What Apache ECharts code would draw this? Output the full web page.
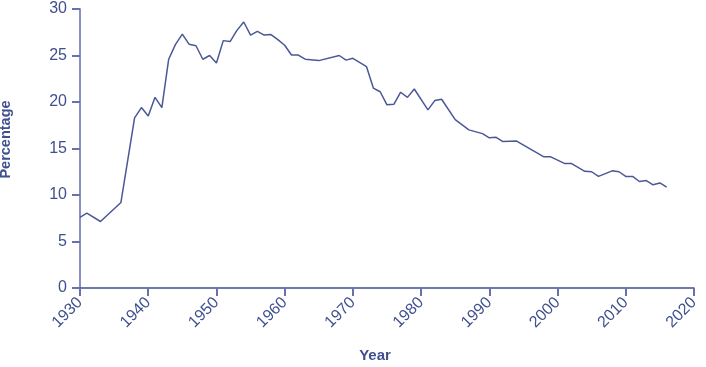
<!DOCTYPE html>
<html>
<head>
<meta charset="utf-8">
<script src="https://cdn.jsdelivr.net/npm/echarts@6/dist/echarts.min.js"></script>
<style>
  html, body { margin: 0; padding: 0; background: #fff; }
  #chart { width: 706px; height: 367px; }
</style>
</head>
<body>
<div id="chart"></div>
<script>
// years (some years missing in the source line)
var years = [1930, 1931, 1933, 1936, 1938, 1939, 1940, 1941, 1942, 1943, 1944, 1945, 1946, 1947, 1948, 1949,
    1950, 1951, 1952, 1953, 1954, 1955, 1956, 1957, 1958, 1959, 1960, 1961, 1962, 1963, 1965, 1968, 1969,
    1970, 1972, 1973, 1974, 1975, 1976, 1977, 1978, 1979, 1981, 1982, 1983, 1985, 1987, 1989, 1990, 1991,
    1992, 1994, 1998, 1999, 2001, 2002, 2004, 2005, 2006, 2008, 2009, 2010, 2011, 2012, 2013, 2014, 2015, 2016];
var percentage = [7.6, 8.05, 7.15, 9.2, 18.3, 19.4, 18.5, 20.5, 19.4, 24.6, 26.2, 27.3, 26.2, 26.05, 24.6, 25.0,
    24.2, 26.6, 26.5, 27.7, 28.6, 27.2, 27.6, 27.2, 27.25, 26.7, 26.1, 25.05, 25.05, 24.6, 24.45, 25.0, 24.5,
    24.7, 23.8, 21.5, 21.1, 19.7, 19.75, 21.05, 20.5, 21.4, 19.15, 20.15, 20.3, 18.1, 17.0, 16.6, 16.15, 16.2,
    15.75, 15.8, 14.1, 14.1, 13.4, 13.4, 12.55, 12.5, 12.0, 12.6, 12.5, 12.0, 12.0, 11.45, 11.55, 11.1, 11.3, 10.85];

var textColor = '#3f4f8f';
var tickColor = '#6a70ad';

var chart = echarts.init(document.getElementById('chart'));

var points = [];
for (var i = 0; i < years.length; i++) {
    points.push([years[i], percentage[i]]);
}

chart.setOption({
    animation: false,
    grid: { left: 80, right: 12, top: 9, bottom: 79, outerBoundsMode: 'none' },
    xAxis: {
        type: 'value',
        min: 1930,
        max: 2020,
        interval: 10,
        name: 'Year',
        nameLocation: 'middle',
        nameGap: 60,
        nameTextStyle: { color: textColor, fontSize: 15, fontWeight: 'bold', fontFamily: 'Liberation Sans', padding: [0, 24, 0, 0] },
        axisLine: { show: true, lineStyle: { color: '#3f4f8f', width: 1.5 } },
        axisTick: { show: true, inside: false, length: 8, lineStyle: { color: tickColor, width: 2, opacity: 1 } },
        axisLabel: {
            rotate: 45, color: textColor, fontSize: 16, fontFamily: 'Liberation Sans', margin: 12,
            formatter: function (v) { return String(v); }
        },
        splitLine: { show: false }
    },
    yAxis: {
        type: 'value',
        min: 0,
        max: 30,
        interval: 5,
        name: 'Percentage',
        nameLocation: 'middle',
        nameGap: 67,
        nameTextStyle: { color: textColor, fontSize: 14.5, fontWeight: 'bold', fontFamily: 'Liberation Sans', padding: [0, 0, 0, 18] },
        axisLine: { show: true, lineStyle: { color: '#8a8fc4', width: 2 } },
        axisTick: { show: true, inside: false, length: 8, lineStyle: { color: tickColor, width: 2, opacity: 1 } },
        axisLabel: { color: textColor, fontSize: 16, fontFamily: 'Liberation Sans', margin: 13 },
        splitLine: { show: false }
    },
    series: [{
        type: 'line',
        data: points,
        symbol: 'none',
        lineStyle: { color: '#4b5896', width: 1.5 }
    }]
});
</script>
</body>
</html>
